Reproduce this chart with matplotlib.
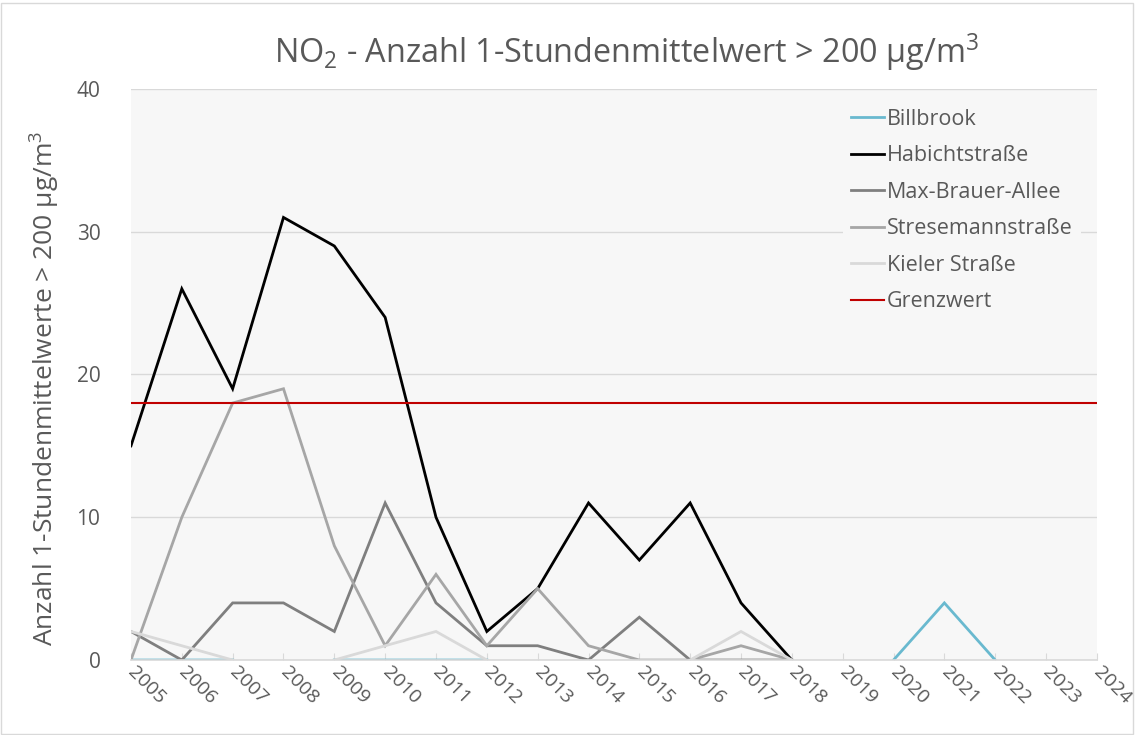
import numpy as np
import matplotlib
matplotlib.use("Agg")
import matplotlib.pyplot as plt

plt.rcParams['font.family'] = ['Open Sans', 'DejaVu Sans']
plt.rcParams['mathtext.fontset'] = 'custom'
plt.rcParams['mathtext.rm'] = 'Open Sans'
plt.rcParams['mathtext.it'] = 'Open Sans:italic'

nan = np.nan
# Jahre
jahre = [str(j) for j in range(2005, 2025)]

# Anzahl Überschreitungen je Station (nan = kein Wert)
billbrook = [0, 0, 0, nan, 0, 0, 0, 0, nan, nan, nan, nan, nan, nan, nan, 0, 4, 0, nan, nan]
habicht = [15, 26, 19, 31, 29, 24, 10, 2, 5, 11, 7, 11, 4, 0, nan, nan, nan, nan, nan, nan]
max_brauer = [2, 0, 4, 4, 2, 11, 4, 1, 1, 0, 3, 0, 0, 0, nan, nan, nan, nan, nan, nan]
stresemann = [0, 10, 18, 19, 8, 1, 6, 1, 5, 1, 0, 0, 1, 0, nan, nan, nan, nan, nan, nan]
kieler = [2, 1, 0, nan, 0, 1, 2, 0, nan, nan, nan, 0, 2, 0, nan, nan, nan, nan, nan, nan]
grenzwert = [18] * 20

serien = [
    ("Billbrook", billbrook, '#69B9CF', 2.0),
    ("Habichtstraße", habicht, '#000000', 2.0),
    ("Max-Brauer-Allee", max_brauer, '#7F7F7F', 2.0),
    ("Stresemannstraße", stresemann, '#A6A6A6', 2.0),
    ("Kieler Straße", kieler, '#D9D9D9', 2.0),
    ("Grenzwert", grenzwert, '#C00000', 1.5),
]

grau = '#595959'
fig = plt.figure(figsize=(11.35, 7.35), dpi=100)
ax = fig.add_axes([0.1154, 0.102, 0.851, 0.777])
ax.set_facecolor('#F7F7F7')

x = np.arange(len(jahre))
for name, werte, farbe, lw in serien:
    ax.plot(x, werte, color=farbe, lw=lw, label=name, solid_joinstyle='miter')

ax.set_xlim(0, len(jahre) - 1)
ax.set_ylim(0, 40)
ax.set_yticks([0, 10, 20, 30, 40])
ax.yaxis.grid(True, color='#D9D9D9', lw=1)
ax.set_axisbelow(True)
for s in ['left', 'right', 'top']:
    ax.spines[s].set_visible(False)
ax.spines['bottom'].set_color('#D9D9D9')
ax.spines['bottom'].set_linewidth(1.2)

ax.set_xticks(x)
ax.set_xticklabels(jahre, rotation=-45, ha='left', va='center', rotation_mode='anchor')
ax.tick_params(axis='x', direction='in', length=5, color='#D9D9D9', labelsize=14,
               labelcolor=grau, pad=7)
ax.tick_params(axis='y', length=0, labelsize=15, labelcolor=grau, pad=22)

fig.text(0.552, 0.929, "NO$_2$ - Anzahl 1-Stundenmittelwert > 200 µg/m$^3$",
         ha='center', va='center', fontsize=23.3, color=grau)
fig.text(0.040, 0.472, "Anzahl 1-Stundenmittelwerte > 200 µg/m$^3$", rotation=90,
         ha='center', va='center', fontsize=19, color=grau)

leg = ax.legend(loc='upper left', bbox_to_anchor=(0.737, 0.980), fontsize=15.5,
                frameon=True, facecolor='#F7F7F7', edgecolor='none', framealpha=1,
                handlelength=1.5, handletextpad=0.15, labelspacing=0.72,
                borderaxespad=0, fancybox=False)
for t in leg.get_texts():
    t.set_color(grau)

fig.patches.append(plt.Rectangle((0.001, 0.001), 0.997, 0.995, transform=fig.transFigure,
                                 fill=False, edgecolor='#D9D9D9', lw=1))

fig.savefig("out.png", dpi=100)
